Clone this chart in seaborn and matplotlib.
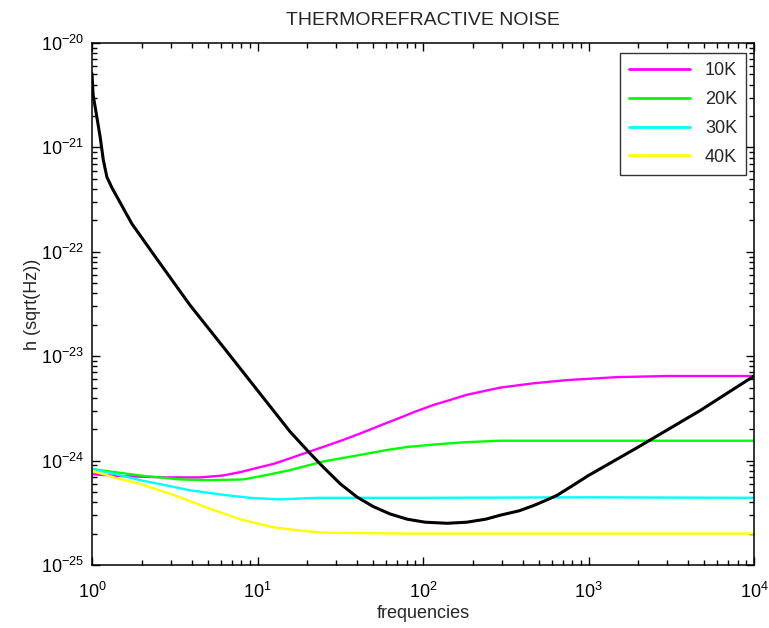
import numpy as np
import pandas as pd
import matplotlib
matplotlib.use("Agg")
import matplotlib.pyplot as plt
import seaborn as sns

# values (log-log plot)
freq_10k = [1.0, 1.5, 2.84, 4.5, 6.2, 8.0, 9.9, 12.5, 15.7, 20, 24.9, 33, 43.3, 56, 72.6, 90, 115, 145,
            184, 293, 464, 740, 1480, 3000, 10000]
h_10k = [7.4e-25, 7.1e-25, 6.9e-25, 6.9e-25, 7.2e-25, 7.8e-25, 8.5e-25, 9.3e-25, 1.05e-24, 1.2e-24,
         1.35e-24, 1.58e-24, 1.86e-24, 2.19e-24, 2.57e-24, 2.95e-24, 3.4e-24, 3.8e-24, 4.27e-24, 5.0e-24,
         5.5e-24, 5.9e-24, 6.3e-24, 6.46e-24, 6.46e-24]

freq_20k = [1.0, 1.95, 3.4, 5.0, 8.2, 11, 15.7, 24.9, 40, 60, 80, 120, 180, 293, 10000]
h_20k = [8.3e-25, 7.2e-25, 6.6e-25, 6.5e-25, 6.6e-25, 7.2e-25, 8.1e-25, 9.8e-25, 1.12e-24, 1.26e-24,
         1.35e-24, 1.43e-24, 1.5e-24, 1.55e-24, 1.55e-24]

freq_30k = [1.0, 1.4, 1.95, 2.8, 3.9, 6.2, 9.0, 13.7, 22.8, 100, 1000, 10000]
h_30k = [8.3e-25, 7.4e-25, 6.5e-25, 5.8e-25, 5.2e-25, 4.7e-25, 4.4e-25, 4.25e-25, 4.4e-25, 4.4e-25,
         4.45e-25, 4.4e-25]

freq_40k = [1.0, 1.4, 1.95, 3.1, 4.95, 7.8, 12.4, 18, 24.9, 80, 10000]
h_40k = [8.0e-25, 6.8e-25, 6.0e-25, 4.7e-25, 3.55e-25, 2.75e-25, 2.3e-25, 2.14e-25, 2.04e-25, 2.0e-25,
         2.0e-25]

freq_total = [1.0, 1.015, 1.07, 1.12, 1.17, 1.23, 1.32, 1.44, 1.74, 2.47, 3.9, 6.2, 9.9, 15.7, 20.8,
              24.9, 31.6, 40, 50, 63, 80, 103, 140, 184, 240, 293, 380, 464, 550, 646, 800, 1000, 2000,
              4700, 10000]
h_total = [5.1e-21, 3.2e-21, 1.95e-21, 1.26e-21, 7.6e-22, 5.2e-22, 4.1e-22, 3.2e-22, 1.86e-22, 8.5e-23,
           3.1e-23, 1.23e-23, 4.8e-24, 1.9e-24, 1.17e-24, 8.7e-25, 6.0e-25, 4.47e-25, 3.63e-25, 3.09e-25,
           2.75e-25, 2.57e-25, 2.51e-25, 2.57e-25, 2.75e-25, 3.0e-25, 3.3e-25, 3.7e-25, 4.15e-25, 4.65e-25,
           5.75e-25, 7.2e-25, 1.35e-24, 3.0e-24, 6.46e-24]

labels = ["10K", "20K", "30K", "40K"]
colors = ["#ff00ff", "#00ff00", "#00ffff", "#ffff00"]

sns.set_style("ticks")
plt.rcParams['font.family'] = ['Liberation Sans', 'DejaVu Sans']
plt.rcParams['mathtext.fontset'] = 'custom'
plt.rcParams['mathtext.rm'] = 'Liberation Sans'

fig = plt.figure(figsize=(7.69, 6.28), dpi=100)
ax = fig.add_axes([92 / 769, 63 / 628, 662 / 769, 522 / 628])

series = [(freq_10k, h_10k), (freq_20k, h_20k), (freq_30k, h_30k), (freq_40k, h_40k)]
for (f, h), lab, c in zip(series, labels, colors):
    sns.lineplot(x=f, y=h, color=c, label=lab, lw=1.7, ax=ax)
sns.lineplot(x=freq_total, y=h_total, color="black", lw=2.2, ax=ax, legend=False)

ax.set_xscale("log")
ax.set_yscale("log")
ax.set_xticks([1, 10, 100, 1000, 10000])
ax.set_yticks([1e-25, 1e-24, 1e-23, 1e-22, 1e-21, 1e-20])
ax.set_xlim(1, 1e4)
ax.set_ylim(1e-25, 1e-20)

ax.tick_params(which="both", direction="in", top=True, right=True, labelsize=13, width=1, colors="black")
ax.tick_params(which="major", length=6)
ax.tick_params(which="minor", length=3.5)
ax.tick_params(axis="x", which="major", pad=12)
ax.tick_params(axis="y", which="major", pad=6)
for s in ax.spines.values():
    s.set_linewidth(1.1)
    s.set_color("black")

ax.set_title("THERMOREFRACTIVE NOISE", fontsize=14, pad=13)
ax.set_xlabel("frequencies", fontsize=13, labelpad=2)
ax.set_ylabel("h (sqrt(Hz))", fontsize=13, labelpad=0)

leg = ax.legend(loc="upper right", fontsize=13, handlelength=3.4, labelspacing=0.65,
                borderpad=0.5, frameon=True, fancybox=False, edgecolor="black",
                bbox_to_anchor=(0.988, 0.98), borderaxespad=0.0)
leg.get_frame().set_linewidth(1.0)
for line in leg.get_lines():
    line.set_linewidth(2.0)

fig.savefig("out.png", dpi=100)
